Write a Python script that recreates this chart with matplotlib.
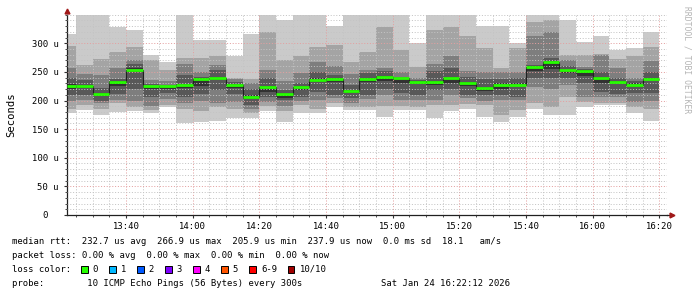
import numpy as np
import matplotlib
matplotlib.use("Agg")
import matplotlib.pyplot as plt
from matplotlib.patches import Rectangle
from matplotlib.ticker import MultipleLocator, FixedLocator, FuncFormatter

# time axis in minutes after 13:00; one smokeping step every 300 s
view_start = 22.2   # 13:22:12
view_end = 202.2    # 16:22:12
step_end = np.arange(25, 201, 5)   # 13:25 ... 16:20

# sorted pings per step (p1 = fastest, p10 = slowest), microseconds
p10 = [316, 360, 360, 329, 323, 280, 268, 360, 305, 306, 278, 316, 360, 340, 360, 360, 330, 360,
       360, 360, 360, 300, 360, 360, 360, 330, 330, 301, 360, 360, 341, 303, 312, 289, 291, 320]
p9 = [295, 262, 272, 284, 294, 270, 254, 274, 275, 277, 240, 238, 319, 271, 277, 294, 297, 268,
      284, 329, 288, 259, 323, 329, 312, 292, 256, 292, 338, 340, 280, 280, 282, 272, 277, 293]
p8 = [256, 246, 245, 256, 271, 236, 234, 264, 250, 262, 237, 231, 253, 235, 249, 268, 260, 246,
      254, 256, 250, 240, 264, 277, 252, 250, 250, 250, 312, 320, 271, 259, 280, 256, 240, 269]
p7 = [239, 236, 222, 237, 263, 229, 228, 245, 242, 253, 233, 221, 239, 218, 231, 250, 245, 227,
      249, 252, 242, 236, 252, 256, 242, 238, 238, 239, 262, 275, 260, 255, 250, 240, 235, 250]
p6 = [229, 228, 214, 234, 256, 226, 226, 229, 240, 242, 229, 209, 225, 213, 225, 240, 240, 219,
      240, 243, 240, 234, 234, 241, 233, 224, 230, 230, 261, 269, 255, 254, 241, 235, 230, 240]
p5 = [221, 222, 208, 226, 250, 220, 220, 222, 225, 236, 222, 203, 215, 205, 218, 232, 233, 213,
      232, 235, 230, 229, 228, 230, 226, 217, 221, 226, 252, 255, 248, 243, 230, 230, 224, 236]
p4 = [210, 210, 200, 212, 221, 206, 213, 207, 212, 218, 211, 192, 206, 201, 207, 215, 210, 204,
      210, 220, 214, 210, 218, 221, 210, 210, 210, 207, 239, 239, 240, 230, 215, 211, 213, 213]
p3 = [200, 201, 195, 201, 200, 190, 202, 195, 200, 195, 198, 186, 198, 190, 200, 201, 204, 196,
      202, 210, 201, 201, 201, 210, 204, 200, 201, 201, 224, 221, 227, 207, 207, 207, 198, 200]
p2 = [186, 192, 186, 196, 189, 183, 192, 186, 181, 188, 186, 178, 190, 182, 193, 186, 195, 188,
      189, 190, 190, 188, 192, 192, 194, 192, 175, 183, 195, 189, 207, 198, 195, 195, 188, 186]
p1 = [179, 183, 175, 180, 182, 179, 188, 160, 163, 165, 169, 169, 182, 163, 179, 179, 188, 183,
      183, 172, 183, 183, 170, 181, 186, 172, 163, 172, 186, 175, 175, 189, 192, 192, 179, 165]
median = [226, 225, 212, 233, 254, 225, 225, 227, 238, 240, 227, 206, 223, 211, 223, 236, 237, 217,
          237, 241, 239, 232, 232, 239, 231, 222, 228, 228, 259, 267, 253, 252, 239, 233, 228, 238]

smoke_colors = ["#cacaca", "#a4a4a4", "#7e7e7e", "#585858", "#323232"]
loss_labels = ["0", "1", "2", "3", "4", "5", "6-9", "10/10"]
loss_colors = ["#26ff00", "#00b8ff", "#0059ff", "#7e00ff", "#ff00ff", "#ff5500", "#ff0000", "#a00000"]

stats_line = "median rtt:  232.7 us avg  266.9 us max  205.9 us min  237.9 us now  0.0 ms sd  18.1   am/s"
loss_line = "packet loss: 0.00 % avg  0.00 % max  0.00 % min  0.00 % now"
probe_line = "probe:        10 ICMP Echo Pings (56 Bytes) every 300s"
stamp = "Sat Jan 24 16:22:12 2026"

MONO = "DejaVu Sans Mono"
FS = 6.4
W, H = 697, 297

plt.rcParams["font.family"] = MONO

fig = plt.figure(figsize=(W / 100, H / 100), dpi=100)
fig.patch.set_facecolor("white")
ax = fig.add_axes([66.7 / W, (H - 215) / H, 600 / W, (215 - 14.7) / H])

edges = np.concatenate([[view_start], step_end])

# smoke: outer pair lightest, inner pair darkest
pairs = [(p1, p10), (p2, p9), (p3, p8), (p4, p7), (p5, p6)]
for (lo, hi), col in zip(pairs, smoke_colors):
    ax.stairs(hi, edges, baseline=lo, fill=True, color=col, lw=0, zorder=1)

ax.stairs(median, edges, baseline=None, color="#202020", lw=0.8, zorder=3)
ax.hlines(median, edges[:-1], edges[1:], colors=loss_colors[0], lw=2.0, zorder=4,
          capstyle="butt")

ax.set_xlim(view_start, view_end)
ax.set_ylim(0, 350)

ax.xaxis.set_major_locator(MultipleLocator(20))
ax.xaxis.set_minor_locator(MultipleLocator(5))
ax.xaxis.set_major_formatter(FuncFormatter(lambda v, _: f"{13 + int(v) // 60}:{int(v) % 60:02d}"))
ax.yaxis.set_major_locator(FixedLocator(np.arange(0, 301, 50)))
ax.yaxis.set_minor_locator(MultipleLocator(10))
ax.yaxis.set_major_formatter(FuncFormatter(lambda v, _: "0  " if v == 0 else f"{int(v)} u"))

ax.set_axisbelow(False)
ax.grid(which="minor", color="#c4c4c4", linestyle=(0, (1, 1.8)), lw=0.72)
ax.grid(which="major", color="#e4a0a0", linestyle=(0, (1, 1.8)), lw=0.72)

ax.tick_params(which="both", direction="out", colors="#303030", labelsize=FS,
               labelcolor="#000000")
ax.tick_params(axis="x", which="major", length=2.5, pad=2.2)
ax.tick_params(axis="x", which="minor", length=1.5)
ax.tick_params(axis="y", which="major", length=2.5, pad=3.2)
ax.tick_params(axis="y", which="minor", length=1.5)

for side in ("top", "right"):
    ax.spines[side].set_visible(False)
for side in ("left", "bottom"):
    ax.spines[side].set_color("#202020")
    ax.spines[side].set_linewidth(0.9)

# rrdtool style axis arrows
ax.plot([1.0, 1.006], [0, 0], transform=ax.transAxes, color="#202020", lw=0.9, clip_on=False)
ax.plot([1.009], [0], marker=">", ms=3.5, color="#a01818", transform=ax.transAxes, clip_on=False)
ax.plot([0], [1.018], marker="^", ms=3.5, color="#a01818", transform=ax.transAxes, clip_on=False)

fig.text(11 / W, 1 - 115 / H, "Seconds", rotation=90, ha="center", va="center",
         fontsize=7.6, family=MONO)
fig.text(687 / W, 1 - 60 / H, "RRDTOOL / TOBI OETIKER", rotation=270, ha="center",
         va="center", fontsize=5.8, color="#b4b4b4", family=MONO)

# legend block
x0 = 12 / W
fig.text(x0, 1 - 241.7 / H, stats_line, ha="left", va="center", fontsize=FS, family=MONO)
fig.text(x0, 1 - 255.3 / H, loss_line, ha="left", va="center", fontsize=FS, family=MONO)
fig.text(x0, 1 - 269.3 / H, "loss color:", ha="left", va="center", fontsize=FS, family=MONO)
fig.text(x0, 1 - 283.3 / H, probe_line, ha="left", va="center", fontsize=FS, family=MONO)
fig.text(510 / W, 1 - 283.3 / H, stamp, ha="right", va="center", fontsize=FS, family=MONO)

char_w = 5.33
x = 81.0
for lab, col in zip(loss_labels, loss_colors):
    fig.add_artist(Rectangle((x / W, 1 - 273 / H), 6.5 / W, 7.5 / H, transform=fig.transFigure,
                             facecolor=col, edgecolor="#000000", lw=0.7))
    tx = x + 11.7
    fig.text(tx / W, 1 - 269.3 / H, lab, ha="left", va="center", fontsize=FS, family=MONO)
    x = tx + len(lab) * char_w + 11

fig.savefig("out.png", dpi=100, facecolor="white")
